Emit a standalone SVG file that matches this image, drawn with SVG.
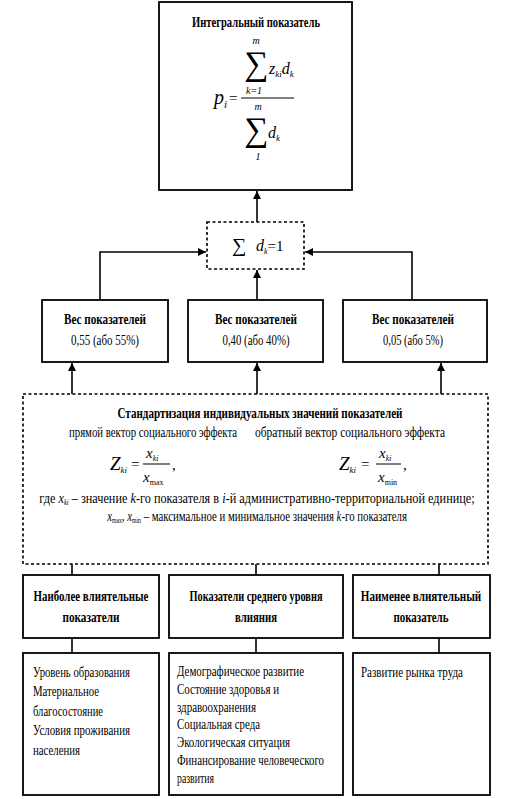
<svg xmlns="http://www.w3.org/2000/svg" width="509" height="799" viewBox="0 0 509 799">
<style>
.box{fill:#fff;stroke:#000;stroke-width:1.8}
.dbox{fill:#fff;stroke:#000;stroke-width:1.6;stroke-dasharray:3,2.5}
.t{font-family:"Liberation Serif","Times New Roman",serif;font-size:15px;fill:#000}
.b{font-weight:bold}
.c{text-anchor:middle}
.i{font-style:italic}
.m{font-family:"Liberation Serif","Times New Roman",serif;fill:#000;font-style:italic}
.s{font-family:"Liberation Serif","Times New Roman",serif;fill:#000}
.ln{fill:none;stroke:#000;stroke-width:1.6}
</style>
<defs>
<marker id="ar" markerUnits="userSpaceOnUse" markerWidth="8" markerHeight="10" refX="8" refY="4" orient="auto">
<path d="M0,0 L8,4 L0,8 Z" fill="#000"/>
</marker>
</defs>
<rect width="509" height="799" fill="#fff"/>

<g id="connectors">
<path class="ln" d="M257,222 V191" marker-end="url(#ar)"/>
<path class="ln" d="M100,300 V252 H206" marker-end="url(#ar)"/>
<path class="ln" d="M257,300 V270" marker-end="url(#ar)"/>
<path class="ln" d="M412,300 V252 H305" marker-end="url(#ar)"/>
<path class="ln" d="M72,394 V363" marker-end="url(#ar)"/>
<path class="ln" d="M257,394 V363" marker-end="url(#ar)"/>
<path class="ln" d="M441,394 V363" marker-end="url(#ar)"/>
<path class="ln" d="M72,564 V575 M256,564 V575 M439,564 V575"/>
<path class="ln" d="M72,638 V653 M256,638 V653 M439,638 V653"/>
</g>

<g id="integral">
<rect class="box" x="159" y="2" width="193" height="188"/>
<text class="t b c" x="256" y="27" textLength="128" lengthAdjust="spacingAndGlyphs">Интегральный показатель</text>
<text class="m" x="214" y="104" font-size="20">p<tspan font-size="11" dy="4">i</tspan></text>
<text class="t" x="229" y="103" font-size="16">=</text>
<line x1="241" y1="98" x2="294" y2="98" stroke="#000" stroke-width="1"/>
<text class="m c" x="256" y="44" font-size="10">m</text>
<text class="s" x="244" y="75" font-size="34">∑</text>
<text class="m" x="269" y="74" font-size="16">z<tspan font-size="9" dy="3">ki</tspan><tspan font-size="16" dy="-3">d</tspan><tspan font-size="9" dy="3">k</tspan></text>
<text class="m c" x="254" y="94" font-size="10">k=1</text>
<text class="m c" x="258" y="110" font-size="10">m</text>
<text class="s" x="244" y="141" font-size="34">∑</text>
<text class="m" x="268" y="138" font-size="16">d<tspan font-size="9" dy="3">k</tspan></text>
<text class="m c" x="258" y="160" font-size="10">1</text>
</g>

<g id="sumbox">
<rect class="dbox" x="207" y="222" width="97" height="47"/>
<text class="s" x="232" y="252" font-size="20">∑</text>
<text class="m" x="256" y="251" font-size="16">d<tspan font-size="8" dy="3">k</tspan><tspan class="t" font-style="normal" font-size="16" dy="-3">=1</tspan></text>
</g>

<g id="w1">
<rect class="box" x="42" y="300" width="126" height="62"/>
<text class="t b c" x="105" y="324" textLength="82" lengthAdjust="spacingAndGlyphs">Вес показателей</text>
<text class="t c" x="105" y="345" textLength="68" lengthAdjust="spacingAndGlyphs">0,55 (або 55%)</text>
</g>
<g id="w2">
<rect class="box" x="188" y="300" width="135" height="62"/>
<text class="t b c" x="256" y="324" textLength="82" lengthAdjust="spacingAndGlyphs">Вес показателей</text>
<text class="t c" x="256" y="345" textLength="67" lengthAdjust="spacingAndGlyphs">0,40 (або 40%)</text>
</g>
<g id="w3">
<rect class="box" x="343" y="300" width="144" height="62"/>
<text class="t b c" x="413" y="324" textLength="82" lengthAdjust="spacingAndGlyphs">Вес показателей</text>
<text class="t c" x="413" y="345" textLength="60" lengthAdjust="spacingAndGlyphs">0,05 (або 5%)</text>
</g>

<g id="standard">
<rect class="dbox" x="23" y="394" width="465" height="170"/>
<text class="t b c" x="260" y="418" font-size="14" textLength="285" lengthAdjust="spacingAndGlyphs">Стандартизация индивидуальных значений показателей</text>
<text class="t c" transform="translate(153,437) scale(0.72,1)" x="0" y="0" font-size="14">прямой вектор социального эффекта</text>
<text class="t c" transform="translate(350,437) scale(0.767,1)" x="0" y="0" font-size="14">обратный вектор социального эффекта</text>
<text class="m" x="110" y="470" font-size="19" font-style="normal">Z<tspan font-size="9" dy="3">ki</tspan></text>
<text class="t" x="131" y="469" font-size="15">=</text>
<text class="m" x="146" y="458" font-size="15">x<tspan font-size="8" dy="3">ki</tspan></text>
<line x1="143" y1="464" x2="170" y2="464" stroke="#000" stroke-width="1"/>
<text class="m" x="143" y="482" font-size="15">x<tspan font-size="8" dy="3" font-style="normal">max</tspan></text>
<text class="t" x="172" y="470" font-size="15">,</text>
<text class="m" x="339" y="470" font-size="19" font-style="normal">Z<tspan font-size="9" dy="3">ki</tspan></text>
<text class="t" x="361" y="469" font-size="15">=</text>
<text class="m" x="379" y="458" font-size="15">x<tspan font-size="8" dy="3">ki</tspan></text>
<line x1="376" y1="464" x2="401" y2="464" stroke="#000" stroke-width="1"/>
<text class="m" x="378" y="482" font-size="15">x<tspan font-size="8" dy="3" font-style="normal">min</tspan></text>
<text class="t" x="403" y="470" font-size="15">,</text>
<text class="t c" transform="translate(257,503) scale(0.817,1)" x="0" y="0" font-size="14">где <tspan class="i">x</tspan><tspan class="i" font-size="8" dy="2">ki</tspan><tspan dy="-2"> – значение </tspan><tspan class="i">k</tspan>-го показателя в <tspan class="i">i</tspan>-й административно-территориальной единице;</text>
<text class="t c" transform="translate(257,521) scale(0.72,1)" x="0" y="0" font-size="14"><tspan class="i">x</tspan><tspan font-size="8" dy="2">max</tspan><tspan dy="-2">, </tspan><tspan class="i">x</tspan><tspan font-size="8" dy="2">min</tspan><tspan dy="-2"> – максимальное и минимальное значения </tspan><tspan class="i">k</tspan>-го показателя</text>
</g>

<g id="cat1">
<rect class="box" x="23" y="575" width="136" height="63"/>
<text class="t b c" transform="translate(91,601) scale(0.726,1)" x="0" y="0">Наиболее влиятельные</text>
<text class="t b c" x="91" y="622" textLength="57" lengthAdjust="spacingAndGlyphs">показатели</text>
</g>
<g id="cat2">
<rect class="box" x="169" y="575" width="174" height="63"/>
<text class="t b c" transform="translate(256,601) scale(0.69,1)" x="0" y="0">Показатели среднего уровня</text>
<text class="t b c" x="256" y="622" textLength="42" lengthAdjust="spacingAndGlyphs">влияния</text>
</g>
<g id="cat3">
<rect class="box" x="353" y="575" width="137" height="63"/>
<text class="t b c" transform="translate(421,601) scale(0.74,1)" x="0" y="0">Наименее влиятельный</text>
<text class="t b c" x="421" y="622" textLength="55" lengthAdjust="spacingAndGlyphs">показатель</text>
</g>

<g id="list1">
<rect class="box" x="23" y="653" width="136" height="142"/>
<text class="t" x="33" y="677" textLength="97" lengthAdjust="spacingAndGlyphs">Уровень образования</text>
<text class="t" x="33" y="696" textLength="66" lengthAdjust="spacingAndGlyphs">Материальное</text>
<text class="t" x="33" y="716" textLength="70" lengthAdjust="spacingAndGlyphs">благосостояние</text>
<text class="t" x="33" y="735" textLength="97" lengthAdjust="spacingAndGlyphs">Условия проживания</text>
<text class="t" x="33" y="755" textLength="47" lengthAdjust="spacingAndGlyphs">населения</text>
</g>
<g id="list2">
<rect class="box" x="169" y="653" width="174" height="142"/>
<text class="t" x="177" y="676" textLength="127" lengthAdjust="spacingAndGlyphs">Демографическое развитие</text>
<text class="t" x="177" y="694" textLength="102" lengthAdjust="spacingAndGlyphs">Состояние здоровья и</text>
<text class="t" x="177" y="712" textLength="79" lengthAdjust="spacingAndGlyphs">здравоохранения</text>
<text class="t" x="177" y="729" textLength="83" lengthAdjust="spacingAndGlyphs">Социальная среда</text>
<text class="t" x="177" y="747" textLength="113" lengthAdjust="spacingAndGlyphs">Экологическая ситуация</text>
<text class="t" x="177" y="765" textLength="147" lengthAdjust="spacingAndGlyphs">Финансирование человеческого</text>
<text class="t" x="177" y="783" textLength="37" lengthAdjust="spacingAndGlyphs">развития</text>
</g>
<g id="list3">
<rect class="box" x="353" y="653" width="137" height="142"/>
<text class="t" x="361" y="677" textLength="102" lengthAdjust="spacingAndGlyphs">Развитие рынка труда</text>
</g>
</svg>
